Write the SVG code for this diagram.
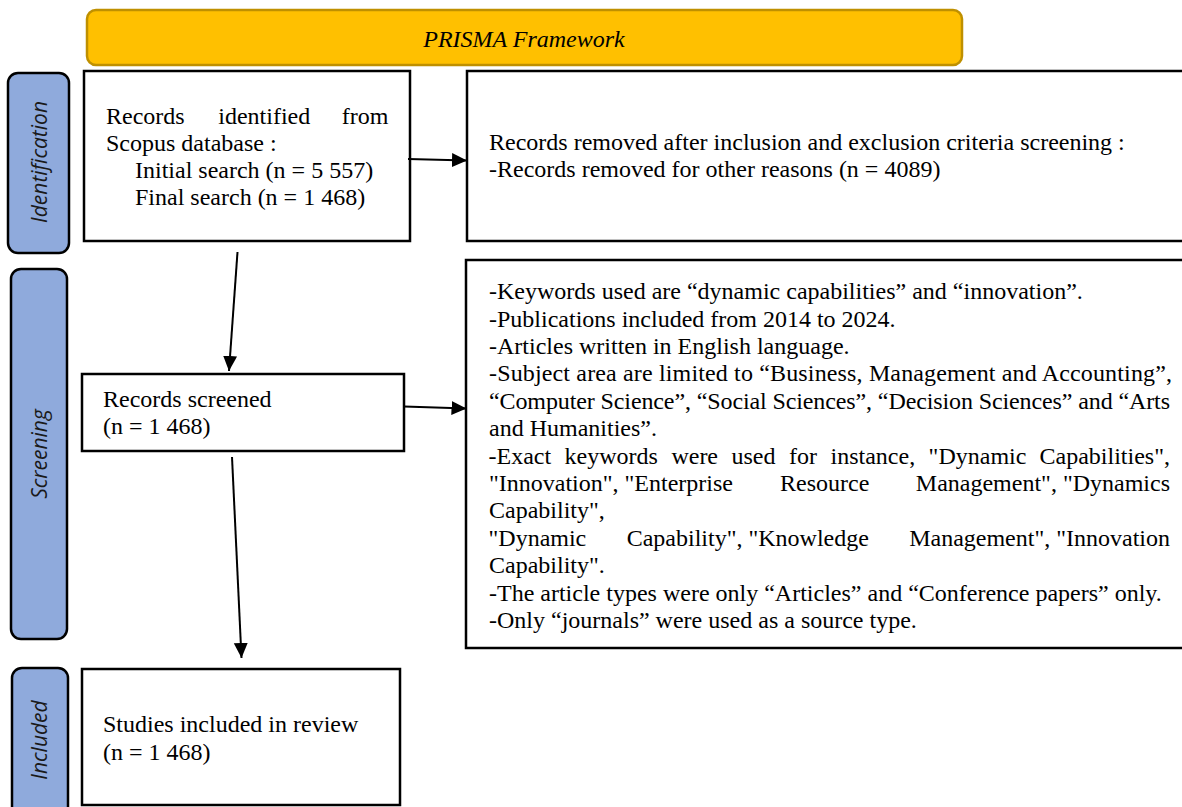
<svg xmlns="http://www.w3.org/2000/svg" width="1182" height="807" viewBox="0 0 1182 807">
<style>
.box{fill:#fff;stroke:#000;stroke-width:2.5}
.pill{fill:#8FAADC;stroke:#000;stroke-width:2.5}
.t{font-family:"Liberation Serif","Times New Roman",serif;font-size:24px;fill:#000}
.side{font-family:"Open Sans","Noto Sans",sans-serif;font-style:italic;font-size:21px;fill:#1a1a1a;text-anchor:middle}
.conn{stroke:#000;stroke-width:2;fill:none;marker-end:url(#ah)}
</style>
<defs>
<marker id="ah" markerUnits="userSpaceOnUse" markerWidth="16" markerHeight="16" viewBox="0 0 16 16" refX="15" refY="8" orient="auto">
<path d="M0,1 L15,8 L0,15 Z" fill="#000"/>
</marker>
</defs>
<rect width="1182" height="807" fill="#fff"/>

<g id="banner">
<rect x="87" y="10" width="875" height="55" rx="9" fill="#FFC000" stroke="#BF9000" stroke-width="2.5"/>
<text class="t" x="524" y="47" text-anchor="middle" font-style="italic">PRISMA Framework</text>
</g>

<g id="phase-identification">
<rect class="pill" x="8" y="73" width="61" height="180" rx="10"/>
<text class="side" transform="translate(46.5,162) rotate(-90)">Identification</text>
</g>
<g id="phase-screening">
<rect class="pill" x="11" y="269" width="56" height="370" rx="10"/>
<text class="side" transform="translate(47,454) rotate(-90)">Screening</text>
</g>
<g id="phase-included">
<rect class="pill" x="12" y="668" width="56" height="150" rx="10"/>
<text class="side" transform="translate(47,740) rotate(-90)">Included</text>
</g>

<g id="records-identified">
<rect class="box" x="84" y="71" width="326" height="170"/>
<text class="t" y="123.5"><tspan x="106">Records</tspan><tspan x="218.3">identified</tspan><tspan x="388.3" text-anchor="end">from</tspan></text>
<text class="t" x="106" y="150.5">Scopus database :</text>
<text class="t" x="135" y="178">Initial search (n = 5 557)</text>
<text class="t" x="135" y="205.3">Final search (n = 1 468)</text>
</g>

<g id="records-removed">
<rect class="box" x="467" y="71" width="730" height="170"/>
<text class="t" x="489" y="149.5">Records removed after inclusion and exclusion criteria screening :</text>
<text class="t" x="489" y="177">-Records removed for other reasons (n = 4089)</text>
</g>

<g id="records-screened">
<rect class="box" x="82" y="374" width="322" height="77"/>
<text class="t" x="103" y="406.7">Records screened</text>
<text class="t" x="103" y="434">(n = 1 468)</text>
</g>

<g id="screening-criteria">
<rect class="box" x="466" y="260" width="730" height="388"/>
<text class="t" x="489" y="299.2">-Keywords used are “dynamic capabilities” and “innovation”.</text>
<text class="t" x="489" y="326.6">-Publications included from 2014 to 2024.</text>
<text class="t" x="489" y="354">-Articles written in English language.</text>
<text class="t" x="489" y="381.4" textLength="683">-Subject area are limited to “Business, Management and Accounting”,</text>
<text class="t" x="489" y="408.8" textLength="681">“Computer Science”, “Social Sciences”, “Decision Sciences” and “Arts</text>
<text class="t" x="489" y="436.2">and Humanities”.</text>
<text class="t" y="463.6"><tspan x="488.5">-Exact</tspan><tspan x="564.6">keywords</tspan><tspan x="671.4">were</tspan><tspan x="731.5">used</tspan><tspan x="789">for</tspan><tspan x="830.5">instance,</tspan><tspan x="928.6">"Dynamic</tspan><tspan x="1170" text-anchor="end">Capabilities",</tspan></text>
<text class="t" y="491"><tspan x="489">"Innovation", "Enterprise</tspan><tspan x="780">Resource</tspan><tspan x="1170" text-anchor="end">Management", "Dynamics</tspan></text>
<text class="t" x="489" y="518.4">Capability",</text>
<text class="t" y="545.8"><tspan x="488.5">"Dynamic</tspan><tspan x="626.7">Capability", "Knowledge</tspan><tspan x="1170" text-anchor="end">Management", "Innovation</tspan></text>
<text class="t" x="489" y="573.2">Capability".</text>
<text class="t" x="489" y="600.6">-The article types were only “Articles” and “Conference papers” only.</text>
<text class="t" x="489" y="628">-Only “journals” were used as a source type.</text>
</g>

<g id="studies-included">
<rect class="box" x="82" y="669" width="318" height="136"/>
<text class="t" x="103" y="731.7">Studies included in review</text>
<text class="t" x="103" y="760">(n = 1 468)</text>
</g>

<g id="connectors">
<line class="conn" x1="408" y1="159" x2="467" y2="160.5"/>
<line class="conn" x1="237.5" y1="252" x2="229" y2="371"/>
<line class="conn" x1="404" y1="406.5" x2="466.5" y2="408.5"/>
<line class="conn" x1="232" y1="457" x2="241.5" y2="658"/>
</g>
</svg>
